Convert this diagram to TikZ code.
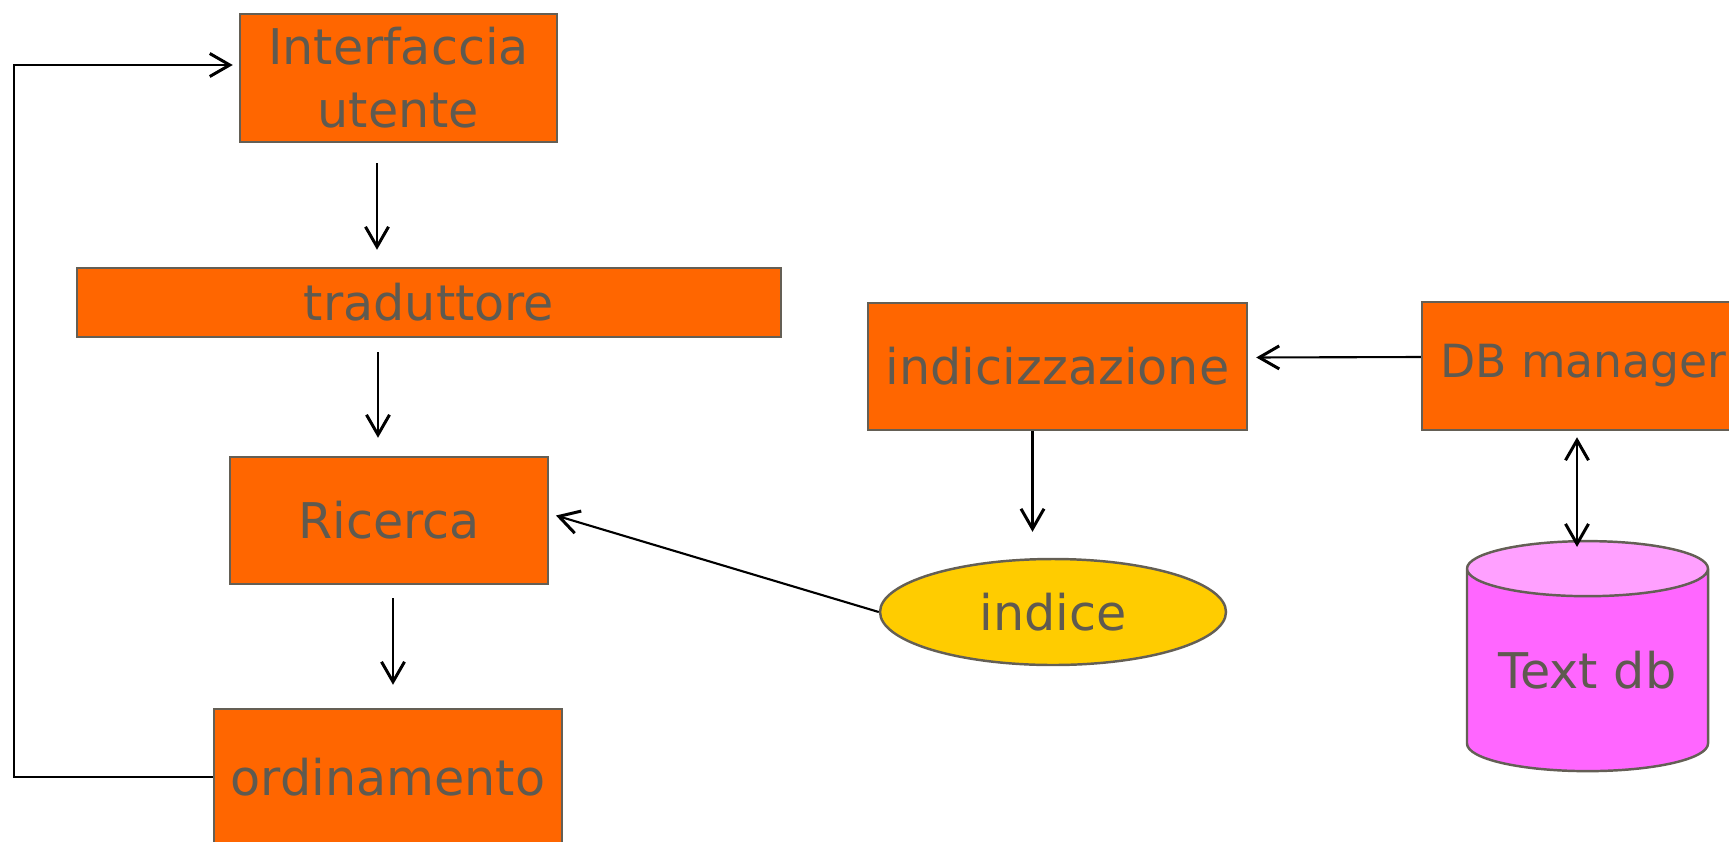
\documentclass[tikz,border=0pt]{standalone}
\usepackage{fontspec}
\setmainfont{DejaVu Sans}
\usetikzlibrary{arrows.meta,shapes.geometric,calc,positioning}

\begin{document}
\begin{tikzpicture}[
    blocco/.style={draw=bordo, line width=1.4pt, fill=arancio, text=testo,
        inner sep=0pt, align=center, font=\fontsize{28}{36}\selectfont},
    freccia/.style={line width=1.2pt,
        -{Straight Barb[length=0.4cm,width=0.46cm,line width=1.7pt]}},
    doppia/.style={line width=1.2pt,
        {Straight Barb[length=0.4cm,width=0.46cm,line width=1.7pt]}-{Straight Barb[length=0.4cm,width=0.46cm,line width=1.7pt]}}
]
    % Definizione colori
    \definecolor{arancio}{RGB}{255,102,0}
    \definecolor{giallo}{RGB}{255,204,0}
    \definecolor{rosa}{RGB}{255,102,255}
    \definecolor{rosachiaro}{RGB}{255,160,255}
    \definecolor{bordo}{RGB}{100,95,85}
    \definecolor{testo}{RGB}{95,90,80}

    \useasboundingbox (0,0) rectangle (34.58,-16.82);

    % Blocchi della catena di interrogazione
    \node[blocco, minimum width=6.34cm, minimum height=2.56cm] (interfaccia) at (7.97,-1.56) {Interfaccia\\utente};
    \node[blocco, minimum width=14.08cm, minimum height=1.38cm] (traduttore) at (8.58,-6.05) {traduttore};
    \node[blocco, minimum width=6.36cm, minimum height=2.54cm] (ricerca) at (7.78,-10.41) {Ricerca};
    \node[blocco, minimum width=6.96cm, minimum height=2.72cm] (ordinamento) at (7.76,-15.54) {ordinamento};

    % Blocchi di indicizzazione
    \node[blocco, minimum width=7.58cm, minimum height=2.54cm] (indicizzazione) at (21.15,-7.33) {indicizzazione};
    \node[blocco, minimum width=6.46cm, minimum height=2.56cm, font=\fontsize{26}{32}\selectfont] (dbmanager) at (31.67,-7.32) {DB manager};
    \node[ellipse, draw=bordo, line width=1.4pt, fill=giallo, text=testo, inner sep=0pt,
        minimum width=6.92cm, minimum height=2.12cm, font=\fontsize{28}{36}\selectfont] (indice) at (21.06,-12.24) {indice};
    \node[cylinder, shape border rotate=90, aspect=0.31, draw=bordo, line width=1.4pt,
        cylinder uses custom fill, cylinder body fill=rosa, cylinder end fill=rosachiaro,
        minimum width=4.82cm, minimum height=4.6cm, text=testo, inner sep=0pt,
        font=\fontsize{28}{36}\selectfont] (testodb) at (31.75,-13.41) {Text db};

    % Frecce verticali
    \draw[freccia, shorten <=0.4cm, shorten >=0.34cm] ($(interfaccia.south)+(-0.43,0)$) coordinate (a1) -- (a1 |- traduttore.north);
    \draw[freccia, shorten <=0.28cm, shorten >=0.36cm] ($(traduttore.south)+(-1.02,0)$) coordinate (a2) -- (a2 |- ricerca.north);
    \draw[freccia, shorten <=0.26cm, shorten >=0.46cm] ($(ricerca.south)+(0.08,0)$) coordinate (a3) -- (a3 |- ordinamento.north);
    \draw[freccia, shorten >=0.52cm] ($(indicizzazione.south)+(-0.5,0)$) coordinate (a4) -- (a4 |- indice.north);
    \draw[doppia, shorten <=0.12cm, shorten >=-0.14cm] ($(dbmanager.south)+(-0.13,0)$) coordinate (a5) -- (a5 |- testodb.north);

    % Frecce orizzontali e oblique
    \draw[freccia, shorten >=0.16cm] ([yshift=0.18cm]dbmanager.west) -- ([yshift=0.18cm]indicizzazione.east);
    \draw[freccia, shorten >=0.14cm] (indice.west) -- ([yshift=0.14cm]ricerca.east);

    % Ritorno da ordinamento a interfaccia
    \coordinate (ritorno) at (0.28,-1.3);
    \draw[freccia, shorten >=0.12cm] (ordinamento.west) -| (ritorno) -- ([yshift=0.26cm]interfaccia.west);
\end{tikzpicture}
\end{document}
